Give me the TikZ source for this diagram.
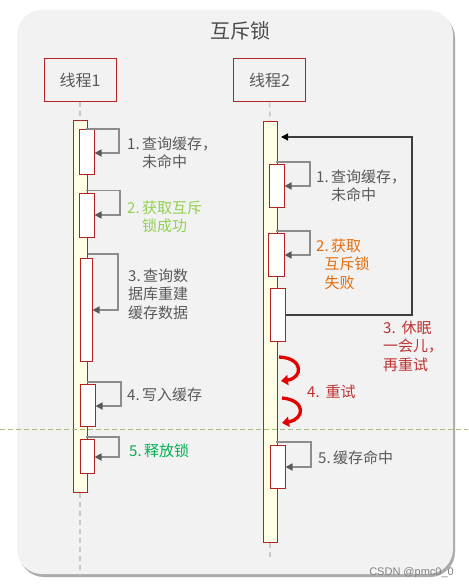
\documentclass[tikz,border=0pt]{standalone}
\usepackage{fontspec}
\setmainfont{Noto Sans CJK SC}
\newfontfamily\wmfont{Liberation Sans}
\usetikzlibrary{arrows.meta,shadows}
\definecolor{bgc}{HTML}{F2F2F2}
\definecolor{brd}{RGB}{178,34,34}
\definecolor{actfill}{HTML}{FFFFE5}
\definecolor{loopc}{HTML}{8C8C8C}
\definecolor{headc}{HTML}{595959}
\definecolor{txt}{HTML}{595959}
\definecolor{lgreen}{HTML}{92D050}
\definecolor{dgreen}{HTML}{00B050}
\definecolor{orng}{HTML}{E46C0A}
\definecolor{dred}{RGB}{190,50,50}
\definecolor{sepc}{HTML}{A9C07A}
\definecolor{lifec}{HTML}{C8C8C8}
\newcommand{\nm}[1]{#1.\kern2.5pt}
\tikzset{
  thread/.style={draw=brd, line width=1pt, fill=bgc, minimum width=72pt, minimum height=43pt, inner sep=0pt, font=\fontsize{16}{18}\selectfont, text=txt},
  actbar/.style={draw=brd, line width=1pt, fill=actfill, inner sep=0pt},
  subbox/.style={draw=brd, line width=1pt, fill=white, inner sep=0pt},
  selfloop/.style={draw=loopc, line width=1.6pt, -{Triangle[length=7pt,width=7pt,color=headc]}},
  biglp/.style={draw=headc!70!black, line width=1.3pt, -{Triangle[length=7pt,width=7pt,color=black]}},
  lifeline/.style={draw=lifec, line width=1.5pt, dash pattern=on 5pt off 4pt},
  lbl/.style={anchor=west, inner sep=0pt, align=left, font=\fontsize{15}{18.5}\selectfont, text=txt},
  retry/.style={draw=red!90!black, line width=3.3pt, -{Triangle[length=7pt,width=10pt]}}
}
\begin{document}
\begin{tikzpicture}[x=1pt,y=-1pt]
\useasboundingbox (0,0) rectangle (468,588);
\fill[white] (0,0) rectangle (468,588);
\node[draw=none, fill=bgc, rounded corners=25pt, minimum width=436pt, minimum height=564pt, inner sep=0pt,
  drop shadow={shadow xshift=2pt, shadow yshift=-3pt, fill=black!55, opacity=0.6}] (frame) at (235,292) {};
\node[font=\fontsize{20}{22}\selectfont, text=txt!85!black] (title) at (240,31) {互斥锁};

% threads
\node[thread] (th1) at (80,80.5) {线程1};
\node[thread] (th2) at (269.5,80.5) {线程2};

% activation bars
\node[actbar, minimum width=14pt, minimum height=371pt] (bar1) at (80,306.5) {};
\node[actbar, minimum width=14pt, minimum height=421pt] (bar2) at (270,332) {};
\coordinate (end1) at (80,574);
\coordinate (end2) at (270,558);
\draw[lifeline] (th1.south) -- (bar1.north);
\draw[lifeline] (th2.south) -- (bar2.north);
\draw[lifeline] (bar1.south) -- (end1);
\draw[lifeline] (bar2.south) -- (end2);

% separator
\coordinate (sepL) at (0,429);
\coordinate (sepR) at (468,429);
\draw[draw=sepc, line width=1pt, dash pattern=on 5pt off 3pt] (sepL) -- (sepR);

% thread 1 sub boxes
\node[subbox, minimum width=15pt, minimum height=44pt] (a1) at (86.5,152) {};
\node[subbox, minimum width=15pt, minimum height=44pt] (a2) at (86.5,215) {};
\node[subbox, minimum width=12pt, minimum height=103pt] (a3) at (86,309.5) {};
\node[subbox, minimum width=15pt, minimum height=42pt] (a4) at (87.5,405) {};
\node[subbox, minimum width=14pt, minimum height=34pt] (a5) at (87,456) {};

\coordinate (s1) at (86,129);
\coordinate (s2) at (86,190.5);
\coordinate (s3) at (88,254);
\coordinate (s4) at (87,382);
\coordinate (s5) at (86,437);
\draw[selfloop] (s1) -- (119,129) -- (119,153) -- (a1.east |- 0,153);
\draw[selfloop] (s2) -- (120,190.5) -- (120,215) -- (a2.east |- 0,215);
\draw[selfloop] (s3) -- (118,254) -- (118,310) -- (a3.east |- 0,310);
\draw[selfloop] (s4) -- (121,382) -- (121,406) -- (a4.east |- 0,406);
\draw[selfloop] (s5) -- (119,437) -- (119,457) -- (a5.east |- 0,457);

\node[lbl] (t1) at (127,153) {\nm{1}查询缓存，\\\phantom{\nm{1}}未命中};
\node[lbl, text=lgreen] (t2) at (127,217) {\nm{2}获取互斥\\\phantom{\nm{2}}锁成功};
\node[lbl] (t3) at (128,294) {\nm{3}查询数\\据库重建\\缓存数据};
\node[lbl] (t4) at (127,395) {\nm{4}写入缓存};
\node[lbl, text=dgreen] (t5) at (129,451) {\nm{5}释放锁};

% thread 2 sub boxes
\node[subbox, minimum width=15pt, minimum height=43pt] (b1) at (276.5,185.5) {};
\node[subbox, minimum width=16pt, minimum height=43pt] (b2) at (276,254.5) {};
\node[subbox, minimum width=15pt, minimum height=53pt] (b3) at (277.5,314.5) {};
\node[subbox, minimum width=15pt, minimum height=43pt] (b5) at (277.5,466.5) {};

\coordinate (r1) at (276,162);
\coordinate (r2) at (276,231);
\coordinate (r5) at (276,442);
\draw[selfloop] (r1) -- (310,162) -- (310,186) -- (b1.east |- 0,186);
\draw[selfloop] (r2) -- (310,231) -- (310,255) -- (b2.east |- 0,255);
\draw[selfloop] (r5) -- (311,442) -- (311,467) -- (b5.east |- 0,467);

% big retry loop
\coordinate (bigtip) at (281,137);
\draw[biglp] (b3.east |- 0,315) -- (412,315) -- (412,137) -- (bigtip);

% red retry arrows
\coordinate (c1s) at (279,357);
\coordinate (c1e) at (281,381);
\coordinate (c2s) at (282,398);
\coordinate (c2e) at (282,423);
\draw[retry] (c1s) .. controls (304,358) and (303,378) .. (c1e);
\draw[retry] (c2s) .. controls (306,400) and (305,419) .. (c2e);

\node[lbl] (u1) at (316,186) {\nm{1}查询缓存，\\\phantom{\nm{1}}未命中};
\node[lbl, text=orng] (u2) at (316,264) {\nm{2}获取\\\phantom{1}互斥锁\\\phantom{1}失败};
\node[lbl, text=dred] (u3) at (383,346) {3.\kern6pt 休眠\\一会儿，\\再重试};
\node[lbl, text=dred] (u4) at (307,392) {4.\kern6pt 重试};
\node[lbl] (u5) at (318,458) {\nm{5}缓存命中};

\node[anchor=east, inner sep=0pt, font=\wmfont\fontsize{11}{12}\selectfont, text=black!50] (wm) at (454,573) {CSDN @pmc0\_0};
\end{tikzpicture}
\end{document}
